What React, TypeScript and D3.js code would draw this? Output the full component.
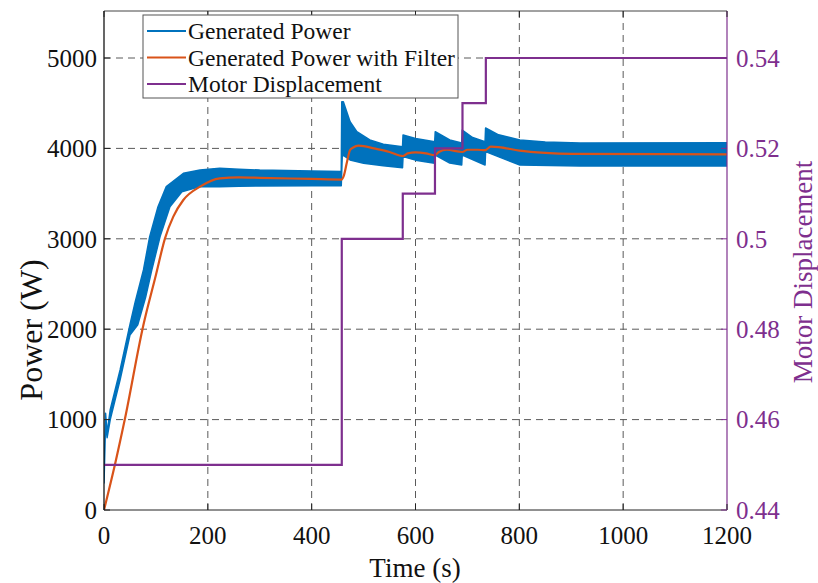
import React from "react";
import * as d3 from "d3";

// ---- data ----
const timeTicks = [0, 200, 400, 600, 800, 1000, 1200];
const powerTicks = [0, 1000, 2000, 3000, 4000, 5000];
const dispTicks = [0.44, 0.46, 0.48, 0.5, 0.52, 0.54];
const dispTickLabels = ["0.44", "0.46", "0.48", "0.5", "0.52", "0.54"];

// upper envelope of the oscillating generated power (time s, power W)
const powerUpper: [number, number][] = [
  [0, 300], [3, 1070], [6, 850], [12, 1110], [31, 1550], [50, 2050], [60, 2300],
  [76, 2655], [88, 3024], [104, 3355], [120, 3577], [153, 3725],
  [185, 3761], [223, 3780], [260, 3770], [300, 3760], [400, 3750], [457, 3745],
  [458, 4517], [461, 4517], [474, 4295], [487, 4185], [512, 4093], [538, 4045],
  [575, 4019], [576, 4148], [600, 4110], [637, 4074], [638, 4185], [666, 4093],
  [689, 4060], [690, 4203], [710, 4120], [734, 4074], [735, 4226], [760, 4150],
  [801, 4093], [850, 4070], [917, 4060], [1200, 4063],
];
// lower envelope
const powerLower: [number, number][] = [
  [0, 300], [3, 950], [6, 800], [12, 1000], [31, 1440], [50, 1936], [65, 2050],
  [80, 2350], [92, 2655], [108, 3024], [127, 3355], [150, 3520], [185, 3577],
  [223, 3577], [260, 3580], [300, 3585], [400, 3588], [457, 3588], [459, 3930],
  [474, 3872], [500, 3835], [538, 3809], [575, 3787], [576, 3909], [600, 3870],
  [637, 3835], [638, 3927], [666, 3838], [689, 3816], [690, 3927], [734, 3816],
  [735, 3964], [801, 3816], [917, 3805], [1200, 3805],
];
// filtered power
const powerFiltered: [number, number][] = [
  [0, 0], [21, 500], [40, 1000], [76, 2050], [100, 2600], [117.5, 3005],
  [133.5, 3245], [152.8, 3429], [185, 3577], [223, 3669], [260, 3680],
  [300, 3675], [400, 3662], [457, 3655], [462, 3700], [468, 3850], [474, 3982],
  [480, 4010], [490, 4030], [500, 4025], [520, 4000], [550, 3960], [576, 3916],
  [585, 3945], [600, 3955], [620, 3945], [637, 3925], [645, 3960], [660, 3985],
  [690, 3960], [700, 3985], [720, 3985], [734, 3980], [745, 4019], [760, 4015],
  [800, 3975], [850, 3950], [900, 3940], [1200, 3935],
];
// motor displacement steps
const dispSteps: [number, number][] = [
  [0, 0.45], [458, 0.5], [575.5, 0.51], [637.5, 0.52], [690.5, 0.53], [735.5, 0.54], [1200, 0.54],
];

const legendLabels = ["Generated Power", "Generated Power with Filter", "Motor Displacement"];
const colors = ["#0072BD", "#D95319", "#7E2F8E"];

const W = 818, H = 583;
const L = 104, R = 727, T = 11, B = 510;

export default function App() {
  const x = d3.scaleLinear().domain([0, 1200]).range([L, R]);
  const yL = d3.scaleLinear().domain([0, 5000]).range([B, 58]);
  const yR = d3.scaleLinear().domain([0.44, 0.54]).range([B, 58]);

  const poly = [...powerUpper, ...powerLower.slice().reverse()];
  const bandPath = d3.line<[number, number]>().x(d => x(d[0])).y(d => yL(d[1]))(poly) + "Z";
  const filtPath = d3.line<[number, number]>().x(d => x(d[0])).y(d => yL(d[1])).curve(d3.curveMonotoneX)(powerFiltered)!;
  const dispPath = d3.line<[number, number]>().x(d => x(d[0])).y(d => yR(d[1])).curve(d3.curveStepAfter)(dispSteps)!;

  const font = "'Liberation Serif', 'Times New Roman', serif";
  const grid = "#5a5a5a";
  const fs = 25;

  return (
    <div style={{ position: "fixed", left: 0, top: 0 }}>
      <svg width={W} height={H} style={{ display: "block", background: "#fff" }} fontFamily={font}>
        <defs>
          <clipPath id="plot"><rect x={L} y={T} width={R - L} height={B - T} /></clipPath>
        </defs>
        {/* grid */}
        {timeTicks.slice(1, -1).map(t => (
          <line key={"gx" + t} x1={x(t)} x2={x(t)} y1={T} y2={B} stroke={grid} strokeWidth={1} strokeDasharray="7,5" />
        ))}
        {powerTicks.slice(1).map(p => (
          <line key={"gy" + p} x1={L} x2={R} y1={yL(p)} y2={yL(p)} stroke={grid} strokeWidth={1} strokeDasharray="7,5" />
        ))}
        {/* data */}
        <g clipPath="url(#plot)">
          <path d={bandPath} fill={colors[0]} stroke={colors[0]} strokeWidth={1.5} strokeLinejoin="round" />
          <path d={filtPath} fill="none" stroke={colors[1]} strokeWidth={2.2} />
          <path d={dispPath} fill="none" stroke={colors[2]} strokeWidth={2.2} />
        </g>
        {/* axes box */}
        <line x1={L} x2={R} y1={T} y2={T} stroke="#444" strokeWidth={1} />
        <line x1={L} x2={R} y1={B} y2={B} stroke="#222" strokeWidth={1} />
        <line x1={L} x2={L} y1={T} y2={B} stroke="#000" strokeWidth={1.2} />
        <line x1={R} x2={R} y1={T} y2={B} stroke={colors[2]} strokeWidth={1.2} />
        {/* x ticks */}
        {timeTicks.map(t => (
          <g key={"xt" + t}>
            <line x1={x(t)} x2={x(t)} y1={B} y2={B - 6} stroke="#222" />
            <line x1={x(t)} x2={x(t)} y1={T} y2={T + 6} stroke="#222" />
            <text x={x(t)} y={B + 34} textAnchor="middle" fontSize={fs} fill="#111">{t}</text>
          </g>
        ))}
        {/* left ticks */}
        {powerTicks.map(p => (
          <g key={"yt" + p}>
            <line x1={L} x2={L + 6} y1={yL(p)} y2={yL(p)} stroke="#222" />
            <text x={L - 7} y={yL(p)} dy="0.35em" textAnchor="end" fontSize={fs} fill="#111">{p}</text>
          </g>
        ))}
        {/* right ticks */}
        {dispTicks.map((v, i) => (
          <g key={"rt" + v}>
            <line x1={R} x2={R - 6} y1={yR(v)} y2={yR(v)} stroke={colors[2]} />
            <text x={R + 9} y={yR(v)} dy="0.35em" textAnchor="start" fontSize={fs} fill={colors[2]}>{dispTickLabels[i]}</text>
          </g>
        ))}
        {/* axis labels */}
        <text x={415} y={577} textAnchor="middle" fontSize={27} fill="#111">Time (s)</text>
        <text transform="translate(42,330) rotate(-90)" textAnchor="middle" fontSize={32} fill="#111">Power (W)</text>
        <text transform="translate(812,272) rotate(-90)" textAnchor="middle" fontSize={27} fill={colors[2]}>Motor Displacement</text>
        {/* legend */}
        <g>
          <rect x={143} y={15} width={315} height={83} fill="#fff" stroke="#555" strokeWidth={1} />
          {legendLabels.map((lab, i) => (
            <g key={lab}>
              <line x1={147} x2={186} y1={31 + i * 26.5} y2={31 + i * 26.5} stroke={colors[i]} strokeWidth={2.2} />
              <text x={188} y={31 + i * 26.5} dy="0.35em" fontSize={23.5} fill="#111">{lab}</text>
            </g>
          ))}
        </g>
      </svg>
    </div>
  );
}
